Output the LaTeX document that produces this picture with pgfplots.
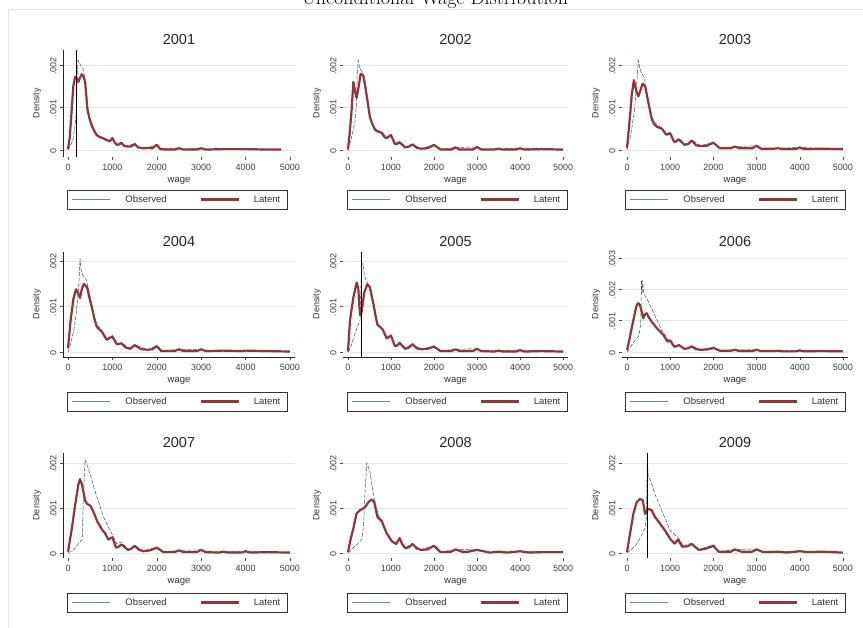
\documentclass[border=0pt]{standalone}
\usepackage{fontspec}
\setmainfont{Liberation Sans}
\newfontfamily\lmroman{Latin Modern Roman}
\usepackage{pgfplots}
\pgfplotsset{compat=1.18}
\definecolor{latc}{RGB}{144,53,59}
\definecolor{obsc}{RGB}{40,85,125}
\pgfplotsset{
 panel/.style={scale only axis, anchor=south west,
   xtick={0,1000,2000,3000,4000,5000}, xticklabels={0,1000,2000,3000,4000,5000},
   ytick={0,0.001,0.002}, yticklabels={0,.001,.002},
   scaled y ticks=false, scaled x ticks=false,
   axis x line*=bottom, axis y line*=left, axis line style={-, black!85, line width=0.6pt},
   tick align=outside, major tick length=3pt, tick style={black!70, line width=0.5pt},
   ymajorgrids, grid style={black!10, line width=0.5pt},
   tick label style={font=\fontsize{9}{10}\selectfont, text=black!75},
   yticklabel style={rotate=90, anchor=south, xshift=-1pt},
   xticklabel style={yshift=-1pt},
   xlabel={wage}, ylabel={Density},
   every axis x label/.style={at={(axis description cs:0.5,0)}, yshift=-24pt, anchor=center, font=\fontsize{9.5}{10}\selectfont, text=black!80},
   every axis y label/.style={at={(axis description cs:0,0.5)}, xshift=-26pt, rotate=90, anchor=center, font=\fontsize{9}{10}\selectfont, text=black!80},
   every axis title/.style={at={(axis description cs:0.5,1)}, yshift=10pt, anchor=center, font=\fontsize{14.5}{16}\selectfont, text=black!85},
 },
 c1/.style={xmin=-113, xmax=5113, width=232pt},
 c2/.style={xmin=-116, xmax=5116, width=225pt},
 c3/.style={xmin=-116, xmax=5116, width=226pt},
 r1/.style={ymin=-0.000165, ymax=0.00235, height=107pt},
 r2/.style={ymin=-0.00011, ymax=0.0022, height=105pt},
 r3/.style={ymin=-0.00011, ymax=0.00222, height=105pt},
 noxline/.style={x axis line style={draw=none}},
 noyline/.style={y axis line style={draw=none}},
 lat/.style={color=latc, line width=2.2pt, line join=round},
 obs/.style={color=obsc, line width=0.5pt, dash pattern=on 4pt off 1.5pt},
 mw/.style={black, line width=0.8pt},
}
\newcommand\lgd[2]{%
 \begin{scope}[shift={(#1pt,#2pt)}]
  \draw[black!80, line width=0.5pt] (0pt,0pt) rectangle (220pt,-19pt);
  \draw[obsc!70, line width=0.5pt] (5pt,-9.5pt) -- (43pt,-9.5pt);
  \node[font=\fontsize{9.5}{10}\selectfont, text=black!80] at (79pt,-9.5pt) {Observed};
  \draw[latc, line width=2.2pt] (134pt,-9.5pt) -- (172pt,-9.5pt);
  \node[font=\fontsize{9.5}{10}\selectfont, text=black!80] at (200pt,-9.5pt) {Latent};
 \end{scope}}
\begin{document}
\begin{tikzpicture}
\draw[black!10, line width=0.6pt] (8pt,0pt) -- (8pt,619pt) -- (863pt,619pt);
\node[font=\lmroman\fontsize{20}{24}\selectfont, anchor=base] at (435pt,623pt) {Unconditional Wage Distribution};
% ---------- 2001
\begin{axis}[panel, c1, r1, at={(63pt,471pt)}, title={2001}, noxline]
\addplot[obs] coordinates {(0,0) (50,0.0001) (100,0.0002) (150,0.0005) (190,0.0009) (205,0.0017) (230,0.0021) (260,0.00205) (300,0.00195) (340,0.0019) (380,0.0017) (410,0.0014) (440,0.00105) (480,0.0008) (533,0.00062) (590,0.00048) (645,0.00038) (720,0.00032) (800,0.00029) (870,0.00025) (945,0.00023) (1000,0.0003) (1050,0.0002) (1100,0.00013) (1200,0.00018) (1300,0.00009) (1500,0.00015) (1600,0.00006) (1800,0.00005) (2000,0.00013) (2100,0.00002) (2500,0.00005) (2600,0.00001) (3000,0.00005) (3100,0.00001) (4000,0.00002) (4800,0.00001)};
\addplot[lat] coordinates {(0,0.00002) (40,0.0003) (80,0.0009) (120,0.0015) (160,0.00172) (200,0.00168) (235,0.0016) (270,0.0017) (310,0.00178) (350,0.00172) (385,0.0016) (410,0.0013) (435,0.00097) (480,0.00075) (533,0.00058) (590,0.00045) (645,0.00035) (720,0.0003) (800,0.00027) (870,0.00023) (945,0.00021) (1000,0.00028) (1050,0.00018) (1100,0.00012) (1150,0.00013) (1200,0.00017) (1260,0.0001) (1330,0.00008) (1420,0.00008) (1500,0.00014) (1580,0.00006) (1700,0.00004) (1800,0.00005) (1900,0.00004) (2000,0.00012) (2080,0.00002) (2200,0.00001) (2400,0.00001) (2500,0.00004) (2600,0.00001) (2900,0.00001) (3000,0.00004) (3100,0.00001) (3500,0.00002) (4000,0.00002) (4500,0.00001) (4800,0.00001)};
\addplot[mw] coordinates {(200,-0.000165) (200,0.00235)};
\end{axis}
% ---------- 2002
\begin{axis}[panel, c2, r1, at={(343pt,471pt)}, title={2002}, noxline, noyline]
\addplot[obs] coordinates {(0,0) (85,0.0003) (160,0.00065) (200,0.0011) (215,0.0018) (240,0.0021) (265,0.00195) (290,0.0019) (350,0.0018) (400,0.0016) (450,0.00125) (510,0.0008) (570,0.00062) (630,0.0005) (785,0.00042) (900,0.0003) (1000,0.00037) (1090,0.00015) (1200,0.0002) (1330,0.00007) (1500,0.00014) (1700,0.00003) (2000,0.00013) (2150,0.00001) (2500,0.00006) (3000,0.00007) (3100,0.00001) (4000,0.00004) (5000,0.00001)};
\addplot[lat] coordinates {(0,0.00001) (40,0.0004) (85,0.00095) (125,0.0016) (160,0.0014) (200,0.00122) (250,0.0015) (295,0.00179) (355,0.00175) (400,0.0015) (450,0.00118) (510,0.00077) (570,0.0006) (630,0.00047) (700,0.00043) (785,0.0004) (850,0.0003) (900,0.00028) (1000,0.00035) (1090,0.00014) (1140,0.00014) (1200,0.00018) (1330,0.00006) (1420,0.00008) (1500,0.00013) (1600,0.00005) (1700,0.00003) (1850,0.00004) (2000,0.00012) (2150,0.00001) (2400,0.00001) (2500,0.00006) (2600,0.00001) (2900,0.00001) (3000,0.00007) (3100,0.00001) (3400,0.00001) (3500,0.00003) (3600,0.00001) (3900,0.00001) (4000,0.00004) (4100,0.00001) (4500,0.00002) (5000,0.00001)};
\end{axis}
% ---------- 2003
\begin{axis}[panel, c3, r1, at={(622pt,471pt)}, title={2003}, noxline, noyline]
\addplot[obs] coordinates {(0,0) (90,0.00038) (170,0.0009) (220,0.0015) (262,0.0021) (300,0.0019) (340,0.0018) (400,0.0017) (450,0.0014) (500,0.00115) (572,0.00078) (690,0.00058) (807,0.00052) (910,0.00038) (1000,0.00042) (1090,0.0002) (1200,0.00027) (1330,0.00013) (1500,0.00023) (1700,0.0001) (2000,0.00018) (2150,0.00004) (2500,0.00008) (3000,0.0001) (3100,0.00003) (4000,0.00006) (5000,0.00002)};
\addplot[lat] coordinates {(0,0.00005) (70,0.0008) (110,0.0013) (160,0.00164) (210,0.0014) (262,0.00126) (310,0.0014) (363,0.00156) (420,0.0015) (495,0.00111) (572,0.00073) (630,0.0006) (690,0.00055) (750,0.00052) (807,0.0005) (910,0.00036) (1000,0.00039) (1090,0.00019) (1140,0.0002) (1200,0.00025) (1330,0.00012) (1420,0.00014) (1500,0.00022) (1600,0.00011) (1700,0.00009) (1850,0.0001) (2000,0.00017) (2150,0.00004) (2400,0.00004) (2500,0.00008) (2600,0.00004) (2900,0.00004) (3000,0.0001) (3100,0.00003) (3400,0.00003) (3500,0.00004) (3600,0.00002) (3900,0.00002) (4000,0.00006) (4100,0.00002) (4500,0.00003) (5000,0.00002)};
\end{axis}
% ---------- 2004
\begin{axis}[panel, c1, r2, at={(63pt,271pt)}, title={2004}]
\addplot[obs] coordinates {(0,0) (65,0.0002) (135,0.00049) (185,0.00085) (230,0.0013) (250,0.0016) (270,0.00206) (295,0.0018) (330,0.0017) (420,0.00157) (480,0.0013) (533,0.00105) (590,0.0008) (645,0.0006) (760,0.00048) (870,0.00029) (1000,0.00036) (1100,0.00018) (1200,0.0002) (1400,0.00008) (1500,0.00016) (1800,0.00005) (2000,0.00014) (2100,0.00002) (2500,0.00006) (3000,0.00006) (3100,0.00002) (4000,0.00003) (5000,0.00001)};
\addplot[lat] coordinates {(0,0.00008) (60,0.00071) (120,0.00116) (180,0.00138) (225,0.0013) (270,0.00119) (315,0.0014) (360,0.0015) (435,0.00141) (480,0.0012) (533,0.001) (590,0.00075) (645,0.00056) (700,0.0005) (760,0.00045) (870,0.00027) (1000,0.00034) (1100,0.00017) (1200,0.00019) (1300,0.0001) (1400,0.00007) (1500,0.00015) (1650,0.00006) (1800,0.00005) (1900,0.00006) (2000,0.00013) (2100,0.00002) (2400,0.00002) (2500,0.00006) (2600,0.00002) (2900,0.00002) (3000,0.00006) (3100,0.00002) (3500,0.00003) (3900,0.00002) (4000,0.00003) (4500,0.00002) (5000,0.00001)};
\end{axis}
% ---------- 2005
\begin{axis}[panel, c2, r2, at={(343pt,271pt)}, title={2005}, noyline]
\addplot[obs] coordinates {(0,0) (60,0.0001) (125,0.0003) (200,0.0005) (280,0.0007) (300,0.0014) (320,0.0019) (345,0.00195) (380,0.0017) (430,0.00155) (500,0.00145) (590,0.0011) (685,0.00062) (810,0.0005) (900,0.00031) (1000,0.00038) (1090,0.00014) (1200,0.00021) (1330,0.00008) (1500,0.00018) (1700,0.00006) (2000,0.00013) (2150,0.00002) (2500,0.00006) (3000,0.00007) (3100,0.00002) (4000,0.00004) (5000,0.00001)};
\addplot[lat] coordinates {(0,0.00001) (47,0.0007) (125,0.0012) (203,0.00153) (240,0.0014) (265,0.001) (285,0.0008) (320,0.0009) (380,0.00131) (450,0.00149) (510,0.00142) (590,0.00106) (640,0.0008) (685,0.0006) (750,0.00055) (810,0.00049) (900,0.0003) (1000,0.00036) (1090,0.00013) (1140,0.00014) (1200,0.0002) (1330,0.00007) (1420,0.0001) (1500,0.00017) (1600,0.00008) (1700,0.00006) (1850,0.00007) (2000,0.00012) (2150,0.00002) (2400,0.00002) (2500,0.00006) (2600,0.00002) (2900,0.00002) (3000,0.00007) (3100,0.00002) (3400,0.00001) (3500,0.00003) (3600,0.00001) (3900,0.00001) (4000,0.00004) (4100,0.00001) (4500,0.00002) (5000,0.00001)};
\addplot[mw] coordinates {(305,-0.00011) (305,0.0022)};
\end{axis}
% ---------- 2006
\begin{axis}[panel, c3, r2, at={(622pt,271pt)}, title={2006}, noyline,
  ymin=-0.00016, ymax=0.0032, ytick={0,0.001,0.002,0.003}, yticklabels={0,.001,.002,.003}]
\addplot[obs] coordinates {(0,0) (100,0.0002) (200,0.0004) (262,0.00049) (300,0.0007) (320,0.001) (335,0.0023) (350,0.0019) (365,0.0023) (380,0.0019) (420,0.0018) (500,0.0016) (600,0.0013) (700,0.001) (800,0.0007) (900,0.0005) (940,0.00038) (1000,0.0004) (1090,0.00019) (1200,0.00024) (1330,0.00011) (1500,0.00019) (1700,0.00008) (2000,0.00014) (2150,0.00004) (2500,0.00007) (3000,0.00007) (3100,0.00003) (4000,0.00005) (5000,0.00002)};
\addplot[lat] coordinates {(0,0.00006) (70,0.00049) (146,0.00102) (224,0.0015) (262,0.00156) (300,0.0015) (340,0.00129) (378,0.00108) (415,0.0012) (455,0.00124) (510,0.0011) (570,0.00097) (630,0.00087) (690,0.00076) (770,0.00065) (845,0.00054) (940,0.00033) (1000,0.00037) (1090,0.00017) (1140,0.00018) (1200,0.00022) (1330,0.0001) (1420,0.00012) (1500,0.00018) (1600,0.00009) (1700,0.00007) (1850,0.00008) (2000,0.00013) (2150,0.00004) (2400,0.00004) (2500,0.00007) (2600,0.00003) (2900,0.00003) (3000,0.00007) (3100,0.00003) (3400,0.00003) (3500,0.00004) (3600,0.00002) (3900,0.00002) (4000,0.00005) (4100,0.00002) (4500,0.00003) (5000,0.00002)};
\end{axis}
% ---------- 2007
\begin{axis}[panel, c1, r3, at={(63pt,70pt)}, title={2007}, noxline]
\addplot[obs] coordinates {(0,0) (135,0.00008) (270,0.00025) (320,0.0003) (345,0.0012) (383,0.00207) (430,0.00195) (500,0.00175) (600,0.0014) (700,0.0011) (800,0.0008) (900,0.0006) (1000,0.0004) (1100,0.0002) (1200,0.00025) (1350,0.00008) (1500,0.00017) (1700,0.00005) (2000,0.00013) (2150,0.00002) (2500,0.00006) (3000,0.00007) (3100,0.00002) (4000,0.00004) (5000,0.00001)};
\addplot[lat] coordinates {(0,0.00003) (83,0.00052) (158,0.00105) (232,0.00151) (270,0.00164) (315,0.00152) (383,0.00117) (430,0.00109) (505,0.00105) (555,0.00095) (608,0.00083) (660,0.0007) (720,0.0006) (780,0.0005) (833,0.00044) (908,0.0003) (1000,0.00035) (1080,0.00012) (1140,0.00014) (1200,0.00019) (1350,0.00007) (1420,0.00009) (1500,0.00016) (1600,0.00007) (1700,0.00004) (1850,0.00006) (2000,0.00012) (2150,0.00002) (2400,0.00002) (2500,0.00006) (2600,0.00002) (2900,0.00002) (3000,0.00007) (3100,0.00002) (3400,0.00001) (3500,0.00003) (3600,0.00001) (3900,0.00001) (4000,0.00004) (4100,0.00001) (4500,0.00002) (5000,0.00001)};
\end{axis}
% ---------- 2008
\begin{axis}[panel, c2, r3, at={(343pt,70pt)}, title={2008}, noxline, noyline]
\addplot[obs] coordinates {(0,0) (100,0.0001) (200,0.00018) (320,0.0003) (360,0.0006) (400,0.0014) (437,0.002) (510,0.0018) (575,0.0014) (640,0.0011) (700,0.00085) (790,0.00072) (900,0.00046) (1020,0.00028) (1120,0.00021) (1200,0.00034) (1330,0.00012) (1500,0.00021) (1700,0.00007) (2000,0.00017) (2150,0.00002) (2500,0.00008) (3000,0.00007) (3300,0.00001) (4000,0.00004) (5000,0.00002)};
\addplot[lat] coordinates {(0,0.00002) (60,0.0003) (125,0.00055) (200,0.00088) (280,0.00095) (340,0.00098) (400,0.00102) (475,0.00113) (555,0.00119) (610,0.00113) (650,0.00095) (685,0.0008) (740,0.00075) (790,0.0007) (850,0.00055) (900,0.00044) (960,0.00035) (1020,0.00026) (1120,0.0002) (1200,0.00033) (1260,0.0002) (1330,0.00011) (1420,0.00013) (1500,0.0002) (1600,0.0001) (1700,0.00007) (1850,0.00008) (2000,0.00016) (2150,0.00002) (2400,0.00003) (2500,0.00008) (2650,0.00003) (2800,0.00003) (3000,0.00007) (3300,0.00001) (3500,0.00003) (3700,0.00001) (4000,0.00004) (4200,0.00001) (4500,0.00002) (5000,0.00002)};
\end{axis}
% ---------- 2009
\begin{axis}[panel, c3, r3, at={(622pt,70pt)}, title={2009}, noxline, noyline]
\addplot[obs] coordinates {(0,0) (100,0.00008) (224,0.0002) (340,0.0004) (417,0.00055) (450,0.0008) (470,0.0021) (490,0.0017) (550,0.0016) (650,0.0013) (800,0.00095) (1000,0.0005) (1150,0.00037) (1200,0.00033) (1300,0.00016) (1500,0.00022) (1660,0.00008) (2000,0.00018) (2120,0.00003) (2500,0.00008) (3000,0.00009) (3150,0.00002) (4000,0.00004) (5000,0.00001)};
\addplot[lat] coordinates {(0,0.00002) (70,0.00043) (147,0.00087) (224,0.00113) (300,0.0012) (363,0.00117) (395,0.001) (417,0.00087) (450,0.00093) (494,0.00098) (571,0.00095) (650,0.0008) (765,0.00065) (880,0.0005) (995,0.00032) (1100,0.00021) (1180,0.0003) (1280,0.00014) (1400,0.00015) (1500,0.0002) (1660,0.00007) (1800,0.00009) (2000,0.00016) (2120,0.00003) (2400,0.00003) (2500,0.00008) (2650,0.00003) (2900,0.00003) (3000,0.00008) (3150,0.00002) (3500,0.00003) (3700,0.00001) (4000,0.00004) (4200,0.00002) (4500,0.00003) (5000,0.00001)};
\addplot[mw] coordinates {(463,-0.00011) (463,0.00222)};
\end{axis}
% ---------- legends
\lgd{67}{438}
\lgd{347}{438}
\lgd{625}{438}
\lgd{67}{236}
\lgd{347}{236}
\lgd{625}{236}
\lgd{67}{35}
\lgd{347}{35}
\lgd{625}{35}
\pgfresetboundingbox
\useasboundingbox (0pt,0pt) rectangle (863pt,628pt);
\end{tikzpicture}
\end{document}
